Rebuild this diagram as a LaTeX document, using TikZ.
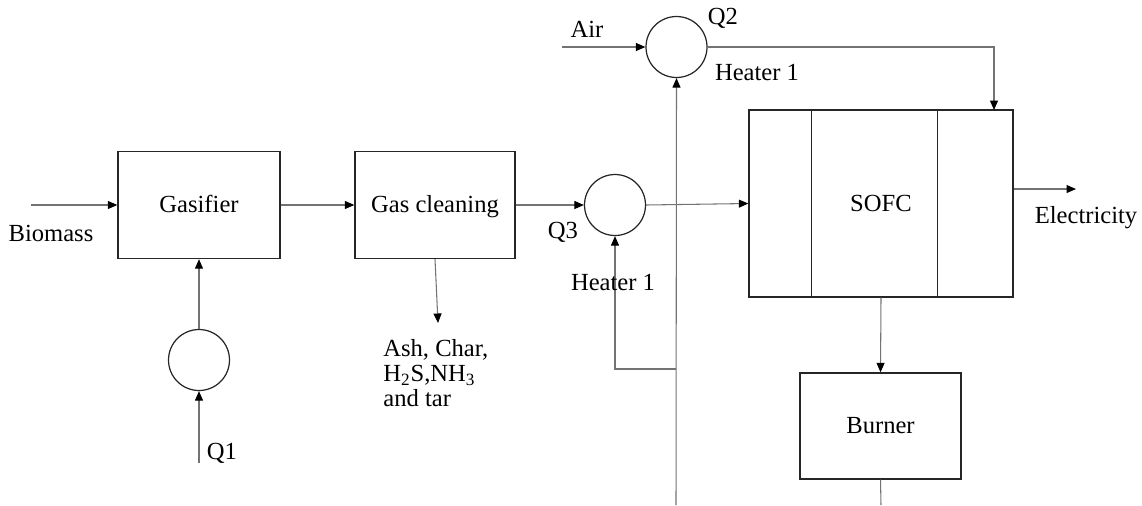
\documentclass[tikz,border=0pt]{standalone}
\usepackage{fontspec}
\setmainfont{Liberation Serif}
\usepackage{tikz}
\usetikzlibrary{arrows.meta, positioning, calc}

\begin{document}
\begin{tikzpicture}[
  x=0.02cm, y=-0.02cm,
  >={Triangle[length=1.9mm, width=1.6mm, color=black]},
  font=\fontsize{14}{14.2}\selectfont,
  unit/.style={draw=black!85, line width=0.8pt, minimum width=#1, text height=0.9em, text depth=0pt},
  unit/.default=3.2cm,
  heater/.style={circle, draw=black!85, line width=0.7pt, minimum size=1.22cm, inner sep=0pt},
  flow/.style={draw=black!55, line width=0.6pt},
  tag/.style={inner sep=0pt},
]
\useasboundingbox (0,0) rectangle (1142,505);

% --- Process units ---
\node[unit=3.24cm, minimum height=2.14cm] (gasifier) at (199,205) {Gasifier};
\node[unit=3.2cm, minimum height=2.14cm] (clean) at (435,205) {Gas cleaning};
\node[unit=5.28cm, minimum height=3.74cm] (sofc) at (881,203.5) {SOFC};
\node[unit=3.22cm, minimum height=2.12cm] (burner) at (880.5,426) {Burner};

% --- SOFC compartments ---
\draw[black!85, line width=0.6pt] ([xshift=1.26cm]sofc.north west) -- ([xshift=1.26cm]sofc.south west);
\draw[black!85, line width=0.6pt] ([xshift=3.78cm]sofc.north west) -- ([xshift=3.78cm]sofc.south west);

% --- Heaters ---
\node[heater] (q1) at (199,360) {};
\node[heater] (q3) at (615,205) {};
\node[heater] (q2) at (676.5,47) {};

% --- Free ends ---
\coordinate (bio) at (31,205);
\coordinate (q1in) at (199,463);
\coordinate (ash) at (438,323);
\coordinate (air) at (562,47);
\coordinate (sofcin) at (994,110);
\coordinate (elec) at (1076,189);
\coordinate (heat) at (676,505);
\coordinate (ret) at (676,369);
\coordinate (flue) at (881,505);

% --- Streams ---
\draw[flow, ->] (bio) -- (gasifier.west);
\draw[flow, ->] (gasifier.east) -- (clean.west);
\draw[flow, ->] (clean.east) -- (q3.west);
\draw[flow, ->] (q3.east) -- (sofc.west);
\draw[flow, ->] (clean.south) -- (ash);
\draw[flow, ->] (q1in) -- (q1.south);
\draw[flow, ->] (q1.north) -- (gasifier.south);
\draw[flow, ->] (air) -- (q2.west);
\draw[flow, ->] (q2.east) -| (sofcin);
\draw[flow, ->] (sofc.east |- elec) -- (elec);
\draw[flow, ->] (heat) -- (q2.south);
\draw[flow, ->] (ret) -| (q3.south);
\draw[flow, ->] (sofc.south) -- (burner.north);
\draw[flow] (burner.south) -- (flue);

% --- Labels ---
\node[tag] (biolbl) at (51,233) {Biomass};
\node[tag] (q1lbl) at (222,453) {Q1};
\node[tag, align=left, anchor=west] (ashlbl) at (383,373) {Ash, Char,\\H\textsubscript{2}S,NH\textsubscript{3}\\and tar};
\node[tag] (q3lbl) at (563,232) {Q3};
\node[tag] (h3lbl) at (613,282) {Heater 1};
\node[tag] (airlbl) at (587,29) {Air};
\node[tag] (q2lbl) at (723,18) {Q2};
\node[tag] (h2lbl) at (757,72) {Heater 1};
\node[tag] (eleclbl) at (1086,218) {Electricity};

\end{tikzpicture}
\end{document}
